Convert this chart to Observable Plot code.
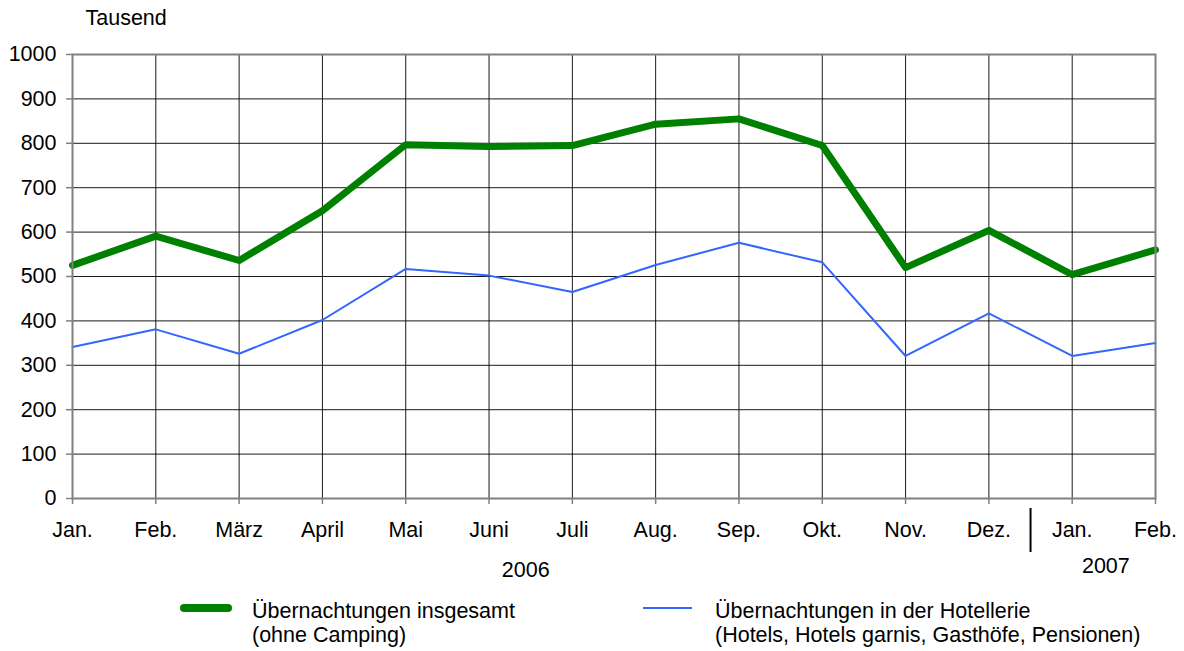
<!DOCTYPE html>
<html><head><meta charset="utf-8">
<script src="https://cdn.jsdelivr.net/npm/d3@7"></script>
<script src="https://cdn.jsdelivr.net/npm/@observablehq/plot@0.6"></script>
<style>
body{margin:0;background:#fff;font-family:"Liberation Sans",Arial,sans-serif;}
#chart svg{display:block;}
#legend{position:relative;width:1184px;height:61px;font-size:21.5px;color:#000;line-height:24px;}
#legend .sw{position:absolute;}
#legend .tx{position:absolute;white-space:nowrap;}
</style></head><body>
<div id="chart"></div>
<div id="legend"></div>
<script>
const months = ["Jan.","Feb.","März","April","Mai","Juni","Juli","Aug.","Sep.","Okt.","Nov.","Dez.","Jan.","Feb."];
const insgesamt = [525,591,536,648,797,793,795,843,855,795,520,604,504,560];
const hotellerie = [341,381,326,402,517,502,465,526,576,532,321,417,321,350];
const yTicks = [0,100,200,300,400,500,600,700,800,900,1000];
const seriesNames = ["Übernachtungen insgesamt", "Übernachtungen in der Hotellerie"];
const seriesNotes = ["(ohne Camping)", "(Hotels, Hotels garnis, Gasthöfe, Pensionen)"];
const seriesColors = ["#008000", "#3366FF"];
const yearLabels = ["2006", "2007"];
const yearPositions = [5.5, 12.5];   // centre of each year's months (month index)
const yearBreak = [11.5];           // between Dez. 2006 and Jan. 2007

const idx = months.map((m, i) => i);
const rowsA = idx.map(i => ({i, v: insgesamt[i]}));
const rowsB = idx.map(i => ({i, v: hotellerie[i]}));

const chart = Plot.plot({
  width: 1184, height: 590,
  marginTop: 54, marginLeft: 72, marginRight: 29, marginBottom: 92,
  style: {fontFamily: '"Liberation Sans", Arial, sans-serif', fontSize: "21.5px", color: "#000", background: "#fff"},
  x: {domain: [0, 13], label: null},
  y: {domain: [0, 1000], label: null},
  marks: [
    Plot.gridX(idx, {stroke: "#000", strokeOpacity: 0.9, strokeWidth: 1}),
    Plot.gridY(yTicks, {stroke: "#000", strokeOpacity: 0.9, strokeWidth: 1}),
    Plot.line(rowsB, {x: "i", y: "v", stroke: seriesColors[1], strokeWidth: 2}),
    Plot.line(rowsA, {x: "i", y: "v", stroke: seriesColors[0], strokeWidth: 7}),
    Plot.frame({stroke: "#808080", strokeWidth: 2}),
    Plot.axisX(idx, {tickFormat: i => months[i], tickSize: 6, tickPadding: 17, stroke: "#808080", strokeWidth: 1.5, fill: "#000", label: null}),
    Plot.axisY(yTicks, {tickFormat: d => String(d), tickSize: 6, tickPadding: 10, stroke: "#808080", strokeWidth: 1.5, fill: "#000", label: null}),
    Plot.ruleX(yearBreak, {stroke: "#000", strokeWidth: 2, insetTop: 454, insetBottom: -54}),
    Plot.text([yearLabels[0]], {x: [yearPositions[0]], frameAnchor: "bottom", lineAnchor: "middle", dy: 72, dx: -5, fill: "#000"}),
    Plot.text([yearLabels[1]], {x: [yearPositions[1]], frameAnchor: "bottom", lineAnchor: "middle", dy: 68, dx: -8, fill: "#000"}),
    Plot.text(["Tausend"], {frameAnchor: "top-left", textAnchor: "start", lineAnchor: "middle", dx: 13, dy: -36, fill: "#000"})
  ]
});
document.getElementById("chart").appendChild(chart);

const legend = document.getElementById("legend");
const legendItems = [
  {swLeft: 180, swWidth: 52, swHeight: 8, swTop: 14, radius: 4, txLeft: 252},
  {swLeft: 643, swWidth: 49, swHeight: 2, swTop: 17, radius: 0, txLeft: 715}
];
legendItems.forEach((it, k) => {
  const sw = document.createElement("div");
  sw.className = "sw";
  Object.assign(sw.style, {left: it.swLeft + "px", top: it.swTop + "px", width: it.swWidth + "px",
    height: it.swHeight + "px", background: seriesColors[k], borderRadius: it.radius + "px"});
  legend.appendChild(sw);
  const tx = document.createElement("div");
  tx.className = "tx";
  Object.assign(tx.style, {left: it.txLeft + "px", top: "9px"});
  tx.innerHTML = seriesNames[k] + "<br>" + seriesNotes[k];
  legend.appendChild(tx);
});
</script>
</body></html>
